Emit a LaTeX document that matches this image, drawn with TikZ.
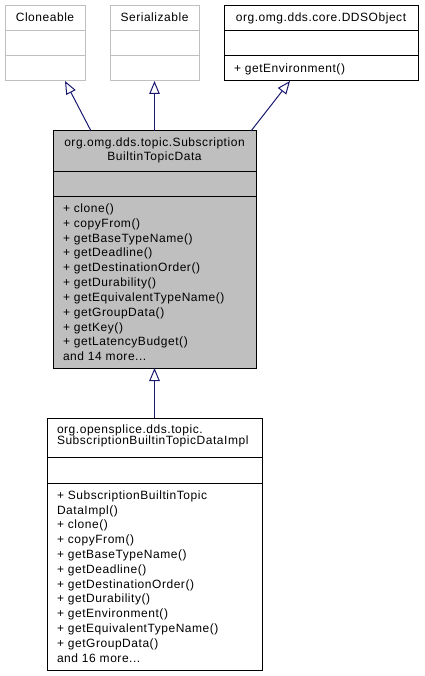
\documentclass[tikz,border=0pt]{standalone}
\usepackage{fontspec}
\setmainfont{Liberation Sans}[LetterSpace=4.5]
\usetikzlibrary{arrows.meta}
\definecolor{edgeblue}{HTML}{191970}
\definecolor{fadedgray}{HTML}{BFBFBF}
\definecolor{classgray}{HTML}{BFBFBF}
\tikzstyle{classpart} = [draw, rectangle, anchor=north west, inner sep=0pt, outer sep=0pt, line width=1pt]
\tikzstyle{faded} = [draw=fadedgray]
\tikzstyle{current} = [fill=classgray]
\tikzstyle{inherit} = [draw=edgeblue, line width=1pt, -{Triangle[open, length=13pt, width=10.5pt]}]
\newcommand{\centerpart}[5]{\parbox[t][#1][t]{#2}{\fontsize{12}{#3}\selectfont\lineskiplimit=-10pt\centering\rule{0pt}{#4}#5}}
\newcommand{\leftpart}[5]{\parbox[t][#1][t]{#2}{\fontsize{12}{#3}\selectfont\lineskiplimit=-10pt\raggedright\leftskip=10pt\rule{0pt}{#4}#5}}

\begin{document}
\begin{tikzpicture}[x=1pt, y=-1pt]
\useasboundingbox (0,0) rectangle (424,676);
% interfaces and base class
\node[classpart, faded] (cloneable) at (5,6) {\centerpart{25pt}{80pt}{14.8pt}{15.5pt}{Cloneable}};
\node[classpart, faded, minimum width=80pt, minimum height=25pt] (cloneable-attr) at (cloneable.south west) {};
\node[classpart, faded, minimum width=80pt, minimum height=25pt] (cloneable-ops) at (cloneable-attr.south west) {};
\node[classpart, faded] (serializable) at (110,6) {\centerpart{25pt}{89pt}{14.8pt}{15.5pt}{Serializable}};
\node[classpart, faded, minimum width=89pt, minimum height=25pt] (serializable-attr) at (serializable.south west) {};
\node[classpart, faded, minimum width=89pt, minimum height=25pt] (serializable-ops) at (serializable-attr.south west) {};
\node[classpart] (ddsobject) at (224,6) {\centerpart{25pt}{194pt}{14.8pt}{15.5pt}{org.omg.dds.core.DDSObject}};
\node[classpart, minimum width=194pt, minimum height=25pt] (ddsobject-attr) at (ddsobject.south west) {};
\node[classpart] (ddsobject-ops) at (ddsobject-attr.south west) {\leftpart{25pt}{194pt}{14.8pt}{16.5pt}{+ getEnvironment()}};
% the class itself
\node[classpart, current] (subscr) at (53,131) {\centerpart{41pt}{203pt}{14pt}{15.6pt}{org.omg.dds.topic.Subscription\\BuiltinTopicData}};
\node[classpart, current, minimum width=203pt, minimum height=25pt] (subscr-attr) at (subscr.south west) {};
\node[classpart, current] (subscr-ops) at (subscr-attr.south west) {\leftpart{171pt}{203pt}{14.8pt}{15.6pt}{%
+ clone()\\
+ copyFrom()\\
+ getBaseTypeName()\\
+ getDeadline()\\
+ getDestinationOrder()\\
+ getDurability()\\
+ getEquivalentTypeName()\\
+ getGroupData()\\
+ getKey()\\
+ getLatencyBudget()\\
and 14 more...}};
% implementation
\node[classpart] (impl) at (47,418) {\leftpart{39pt}{215pt}{11pt}{15pt}{org.opensplice.dds.topic.\\SubscriptionBuiltinTopicDataImpl}};
\node[classpart, minimum width=215pt, minimum height=26pt] (impl-attr) at (impl.south west) {};
\node[classpart] (impl-ops) at (impl-attr.south west) {\leftpart{187pt}{215pt}{14.8pt}{16.3pt}{%
+ SubscriptionBuiltinTopic\\
DataImpl()\\
+ clone()\\
+ copyFrom()\\
+ getBaseTypeName()\\
+ getDeadline()\\
+ getDestinationOrder()\\
+ getDurability()\\
+ getEnvironment()\\
+ getEquivalentTypeName()\\
+ getGroupData()\\
and 16 more...}};
\draw[inherit] ([xshift=-63.5pt]subscr.north) -- ([xshift=20pt]cloneable-ops.south);
\draw[inherit] (subscr.north) -- (serializable-ops.south);
\draw[inherit] ([xshift=96.5pt]subscr.north) -- ([xshift=-31pt]ddsobject-ops.south);
\draw[inherit] (impl.north) -- (subscr-ops.south);
\end{tikzpicture}
\end{document}
